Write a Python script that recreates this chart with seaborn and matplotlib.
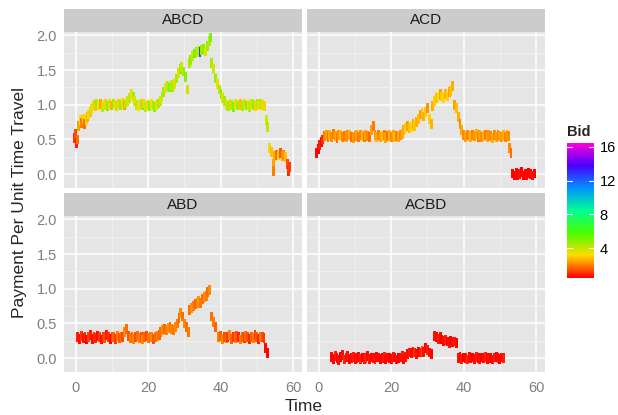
import numpy as np
import pandas as pd
import matplotlib
matplotlib.use("Agg")
import matplotlib.pyplot as plt
import matplotlib.patches as mpatches
from matplotlib.colors import LinearSegmentedColormap, Normalize
from matplotlib.markers import MarkerStyle
from matplotlib.path import Path
from matplotlib.cm import ScalarMappable
import seaborn as sns

# ---------------- data ----------------
ROUTES = ["ABCD", "ACD", "ABD", "ACBD"]

T_ABCD = [-0.5, -0.1, 0.1, 0.4,
          0.8, 1.2, 1.6, 2.0, 2.4, 2.8, 3.2, 3.6, 4.0, 4.4,
          4.8, 5.3, 5.8, 6.3, 6.8, 7.3, 7.8, 8.3, 8.8, 9.3, 9.8, 10.3, 10.8, 11.3, 11.8, 12.3, 12.8, 13.3, 13.8, 14.3,
          14.8, 15.3, 15.8, 16.3,
          16.8, 17.3, 17.8, 18.3, 18.8, 19.3, 19.8, 20.3, 20.8, 21.3, 21.8, 22.3, 22.8, 23.3,
          23.8, 24.3, 24.8, 25.3, 25.8, 26.3, 26.8, 27.3,
          27.8, 28.3, 28.8, 29.3, 29.8, 30.3, 30.8,
          31.3, 31.8, 32.3, 32.8, 33.3, 33.8, 34.3, 34.8, 35.3, 35.8, 36.3, 36.8, 37.1,
          37.6, 38.1, 38.6, 39.1, 39.6, 40.1, 40.6, 41.1,
          41.6, 42.1, 42.6, 43.1, 43.6, 44.1, 44.6, 45.1, 45.6, 46.1, 46.6, 47.1, 47.6, 48.1, 48.6, 49.1, 49.6, 50.1, 50.6, 51.1, 51.6, 52.1,
          52.6, 53.0, 53.5, 54.0, 54.5, 54.5, 55.0, 55.5, 56.0, 56.5, 57.0, 57.5, 58.0, 58.5, 58.8, 59.0]
P_ABCD = [0.52, 0.58, 0.45, 0.50,
          0.70, 0.78, 0.74, 0.80, 0.72, 0.78, 0.82, 0.86, 0.90, 0.94,
          1.00, 0.98, 1.02, 0.99, 1.01, 0.97, 1.00, 1.02, 0.98, 1.01, 0.99, 1.02, 1.00, 0.98, 1.01, 1.00, 1.03, 0.99, 1.02, 1.05,
          1.10, 1.16, 1.12, 1.06,
          1.00, 0.98, 1.01, 0.99, 1.02, 0.97, 1.00, 0.98, 1.01, 0.99, 0.97, 1.00, 1.02, 1.05,
          1.12, 1.18, 1.24, 1.27, 1.25, 1.28, 1.26, 1.30,
          1.38, 1.46, 1.52, 1.55, 1.48, 1.40, 1.22,
          1.60, 1.65, 1.70, 1.74, 1.76, 1.78, 1.76, 1.79, 1.80, 1.77, 1.85, 1.92, 1.97,
          1.60, 1.52, 1.38, 1.30, 1.22, 1.15, 1.10, 1.05,
          1.00, 0.98, 1.01, 1.00, 0.97, 1.02, 0.99, 1.00, 1.01, 0.98, 1.02, 0.99, 1.00, 0.97, 1.01, 1.00, 0.98, 1.02, 0.99, 1.01, 1.00, 0.98,
          0.78, 0.68, 0.38, 0.32, 0.15, 0.05, 0.26, 0.28, 0.27, 0.30, 0.26, 0.28, 0.25, 0.15, 0.05, 0.10]
B_ABCD = [1.0, 1.4, 0.8, 1.8,
          2.4, 3.4, 2.0, 3.0, 1.8, 3.6, 2.6, 3.4, 2.8, 3.6,
          3.6, 2.8, 4.6, 3.2, 2.4, 4.0, 3.8, 3.0, 5.0, 3.6, 2.6, 4.4, 3.2, 4.0, 3.0, 4.8, 3.4, 2.4, 4.2, 3.8,
          4.0, 3.4, 4.6, 3.6,
          4.2, 3.2, 3.8, 5.2, 3.0, 4.0, 3.6, 4.8, 3.2, 4.0, 5.0, 3.4, 4.4, 3.8,
          4.0, 4.6, 3.4, 4.2, 5.2, 3.8, 4.4, 3.6,
          4.4, 3.6, 4.8, 4.0, 4.4, 5.0, 3.8,
          4.2, 4.8, 3.8, 5.4, 4.4, 4.0, 12.5, 4.6, 5.0, 3.6, 4.4, 4.2, 5.2,
          4.4, 3.8, 4.8, 3.4, 4.2, 5.0, 3.6, 4.4,
          3.8, 4.4, 3.0, 4.2, 5.0, 3.4, 4.6, 4.0, 2.8, 4.4, 3.6, 5.2, 3.2, 4.2, 3.8, 4.8, 3.0, 4.4, 3.4, 4.2, 3.8, 3.0,
          3.8, 4.2, 3.4, 2.8, 2.4, 2.0, 2.6, 1.8, 3.0, 1.5, 2.4, 2.2, 2.8, 1.4, 1.0, 1.2]

T_ACD = [-0.6, -0.2, 0.2, 0.6, 1.0,
         1.5, 2.0, 2.5, 3.0, 3.5, 4.0, 4.5, 5.0, 5.5, 6.0, 6.5, 7.0, 7.5, 8.0, 8.5, 9.0, 9.5, 10.0, 10.5, 11.0, 11.5, 12.0, 12.5, 13.0, 13.5, 14.0,
         14.5, 15.0,
         15.5, 16.0, 16.5, 17.0, 17.5, 18.0, 18.5, 19.0, 19.5, 20.0, 20.5, 21.0, 21.5, 22.0, 22.5, 23.0,
         23.5, 24.0, 24.5, 25.0, 25.5, 26.0, 26.5, 27.0,
         27.5, 28.0, 28.5, 29.0, 29.5, 30.0, 30.5, 31.0,
         31.5, 32.0, 32.5, 33.0, 33.5, 34.0, 34.5, 35.0, 35.5, 36.0, 36.5, 37.0,
         37.5, 38.0,
         38.5, 39.0, 39.5,
         40.0, 40.5, 41.0, 41.5, 42.0, 42.5, 43.0, 43.5, 44.0, 44.5, 45.0, 45.5, 46.0, 46.5, 47.0, 47.5, 48.0, 48.5, 49.0, 49.5, 50.0, 50.5, 51.0, 51.5, 52.0, 52.5,
         52.8, 53.1,
         53.5, 54.0, 54.5, 55.0, 55.5, 56.0, 56.5, 57.0, 57.5, 58.0, 58.5, 59.0, 59.5]
P_ACD = [0.30, 0.36, 0.42, 0.46, 0.50,
         0.55, 0.57, 0.53, 0.56, 0.54, 0.58, 0.55, 0.52, 0.56, 0.57, 0.54, 0.55, 0.53, 0.57, 0.56, 0.54, 0.52, 0.55, 0.57, 0.53, 0.56, 0.55, 0.54, 0.57, 0.55, 0.53,
         0.64, 0.70,
         0.56, 0.54, 0.57, 0.53, 0.55, 0.56, 0.52, 0.55, 0.57, 0.54, 0.56, 0.53, 0.55, 0.54, 0.56, 0.58,
         0.64, 0.66, 0.70, 0.66, 0.68, 0.72, 0.70, 0.75,
         0.80, 0.86, 0.88, 0.83, 0.90, 0.95, 0.80, 0.72,
         0.98, 1.05, 1.10, 1.12, 1.15, 1.12, 1.10, 1.15, 1.12, 1.18, 1.20, 1.27,
         1.00, 0.95,
         0.82, 0.72, 0.64,
         0.56, 0.54, 0.57, 0.55, 0.53, 0.56, 0.55, 0.58, 0.54, 0.56, 0.53, 0.55, 0.57, 0.54, 0.56, 0.55, 0.52, 0.56, 0.54, 0.57, 0.55, 0.53, 0.56, 0.54, 0.57, 0.55,
         0.38, 0.30,
         0.01, -0.02, 0.02, -0.01, 0.00, 0.03, -0.02, 0.01, -0.01, 0.02, 0.00, -0.02, 0.01]
B_ACD = [0.6, 0.5, 0.8, 0.6, 1.0,
         2.0, 2.4, 1.8, 2.6, 2.2, 2.0, 2.5, 1.8, 2.3, 2.7, 2.1, 1.9, 2.4, 2.2, 2.6, 1.8, 2.3, 2.1, 2.5, 1.9, 2.2, 2.6, 2.0, 2.4, 2.1, 1.8,
         2.4, 2.0,
         2.3, 2.6, 2.0, 2.4, 2.8, 2.1, 2.5, 1.9, 2.7, 2.2, 2.4, 2.8, 2.0, 2.5, 2.2, 2.6,
         2.6, 3.0, 2.4, 2.8, 3.1, 2.5, 2.9, 2.6,
         2.8, 2.4, 3.0, 2.6, 2.9, 2.3, 3.0, 2.7,
         2.6, 3.0, 2.8, 3.2, 2.5, 2.9, 3.1, 2.7, 3.0, 2.4, 2.8, 2.6,
         2.4, 2.8,
         2.6, 2.2, 2.5,
         2.2, 2.5, 2.0, 2.4, 2.7, 2.1, 2.3, 2.6, 1.9, 2.4, 2.2, 2.7, 2.0, 2.5, 2.3, 2.1, 2.6, 2.2, 2.4, 2.0, 2.5, 2.3, 2.7, 2.1, 2.4, 2.2,
         2.2, 1.8,
         0.5, 0.45, 0.6, 0.5, 0.7, 0.45, 0.55, 0.5, 0.6, 0.45, 0.55, 0.7, 0.5]

T_ABD = [0.5, 1.0, 1.5, 2.0, 2.5, 3.0, 3.5, 4.0, 4.5, 5.0, 5.5, 6.0, 6.5, 7.0, 7.5, 8.0, 8.5, 9.0, 9.5, 10.0,
         10.5, 11.0, 11.5, 12.0, 12.5, 13.0, 13.5, 14.0, 14.5, 15.0, 15.5, 16.0, 16.5, 17.0, 17.5, 18.0, 18.5, 19.0, 19.5, 20.0,
         20.5, 21.0, 21.5, 22.0, 22.5, 23.0,
         23.5, 24.0, 24.5, 25.0, 25.5, 26.0, 26.5, 27.0, 27.5,
         28.0, 28.5, 29.0, 29.5, 30.0, 30.5, 31.0,
         31.5, 32.0, 32.5, 33.0, 33.5, 34.0, 34.5, 35.0, 35.5, 36.0, 36.5, 37.0,
         37.5, 38.0, 38.5,
         39.5, 40.0, 40.5, 41.0, 41.5, 42.0, 42.5, 43.0, 43.5, 44.0, 44.5, 45.0, 45.5, 46.0, 46.5, 47.0, 47.5, 48.0, 48.5, 49.0, 49.5, 50.0, 50.5, 51.0, 51.5, 52.0,
         52.5, 53.0]
P_ABD = [0.30, 0.28, 0.32, 0.29, 0.31, 0.27, 0.30, 0.33, 0.28, 0.31,
         0.29, 0.32, 0.30, 0.27, 0.31, 0.29, 0.33, 0.30, 0.28, 0.31,
         0.30, 0.28, 0.32, 0.29, 0.31, 0.30, 0.38, 0.42, 0.32, 0.29,
         0.31, 0.28, 0.30, 0.32, 0.29, 0.31, 0.27, 0.30, 0.32, 0.29,
         0.31, 0.30, 0.28, 0.30, 0.32, 0.33,
         0.38, 0.40, 0.42, 0.40, 0.43, 0.45, 0.42, 0.40, 0.45,
         0.50, 0.58, 0.65, 0.60, 0.50, 0.45, 0.38,
         0.70, 0.72, 0.75, 0.78, 0.80, 0.82, 0.80, 0.85, 0.88, 0.90, 0.95, 0.98,
         0.60, 0.52, 0.45,
         0.30, 0.32, 0.28, 0.31, 0.29, 0.30, 0.33, 0.28, 0.31, 0.29, 0.32, 0.30, 0.27, 0.31, 0.29, 0.32, 0.30, 0.28, 0.31, 0.29, 0.33, 0.30, 0.28, 0.31, 0.30, 0.29,
         0.15, 0.07]
B_ABD = [0.8, 0.6, 1.1, 0.7, 1.0, 0.5, 1.3, 0.8, 0.6, 1.0,
         0.9, 0.6, 1.2, 0.7, 1.0, 1.5, 0.8, 1.1, 0.6, 1.3,
         1.7, 1.2, 2.0, 1.5, 1.8, 1.3, 2.1, 1.8, 1.5, 2.0,
         1.7, 2.1, 1.4, 1.8, 2.0, 1.5, 2.1, 1.7, 1.4, 1.9,
         1.8, 2.1, 1.5, 1.8, 2.0, 1.7,
         1.8, 2.2, 1.7, 2.0, 2.3, 1.8, 2.1, 1.9, 2.2,
         2.0, 1.7, 2.2, 1.8, 2.1, 1.8, 1.9,
         1.8, 2.2, 2.0, 1.7, 2.1, 2.3, 1.9, 1.8, 2.2, 2.0, 1.8, 2.1,
         1.8, 2.0, 1.7,
         2.0, 1.6, 2.2, 1.4, 1.8, 1.1, 2.1, 1.7, 1.2, 1.9, 1.5, 0.9, 2.0, 1.6, 1.2, 1.8, 1.4, 1.0, 1.7, 2.0, 1.2, 1.6, 0.9, 1.9, 1.4, 1.1,
         0.6, 0.5]

T_ACBD = [3.5, 4.0, 4.5, 5.0, 5.5, 6.0, 6.5, 7.0, 7.5, 8.0, 8.5, 9.0, 9.5, 10.0,
          10.5, 11.0, 11.5, 12.0, 12.5, 13.0, 13.5, 14.0, 14.5, 15.0, 15.5, 16.0, 16.5, 17.0,
          17.5, 18.0, 18.5, 19.0, 19.5, 20.0, 20.5, 21.0, 21.5, 22.0, 22.5, 23.0, 23.5, 24.0,
          24.5, 25.0, 25.5, 26.0, 26.5, 27.0, 27.5, 28.0, 28.5, 29.0, 29.5, 30.0, 30.5, 31.0,
          32.0, 32.5, 33.0, 33.5, 34.0,
          34.5, 35.0, 35.5, 36.0, 36.5, 37.0, 37.5, 38.0,
          38.5, 39.0, 39.5, 40.0, 40.5, 41.0, 41.5, 42.0, 42.5, 43.0, 43.5, 44.0, 44.5, 45.0, 45.5, 46.0,
          46.5, 47.0, 47.5, 48.0, 48.5, 49.0, 49.5, 50.0, 50.5, 51.0]
P_ACBD = [0.02, -0.01, 0.03, 0.00, -0.03, 0.02, 0.04, -0.02, 0.01, 0.03, -0.01, 0.00, 0.02, -0.02,
          0.00, 0.02, -0.01, 0.01, -0.02, 0.00, 0.03, -0.01, 0.01, 0.00, -0.02, 0.02, 0.01, -0.01,
          0.00, 0.02, -0.02, 0.01, 0.00, -0.01, 0.02, 0.01, -0.02, 0.00, 0.01, 0.03, -0.01, 0.02,
          0.06, 0.08, 0.07, 0.09, 0.08, 0.06, 0.09, 0.08, 0.10, 0.09, 0.15, 0.12, 0.08, 0.06,
          0.32, 0.30, 0.28, 0.30, 0.27,
          0.25, 0.26, 0.24, 0.22, 0.25, 0.23, 0.24, 0.22,
          0.00, 0.02, -0.01, 0.01, 0.00, -0.02, 0.02, 0.00, 0.01, -0.01, 0.02, 0.00, -0.02, 0.01, 0.00, 0.02,
          -0.01, 0.01, 0.00, -0.02, 0.01, 0.02, 0.00, -0.01, 0.01, 0.00]
B_ACBD = [0.6, 0.5, 0.8, 0.55, 0.7, 0.5, 0.6, 0.9, 0.55, 0.7, 0.5, 0.6, 0.8, 0.55,
          0.7, 0.55, 0.8, 0.5, 0.6, 0.9, 0.55, 0.7, 0.5, 0.6, 0.8, 0.55, 0.7, 0.5,
          0.6, 0.9, 0.55, 0.7, 0.5, 0.6, 0.8, 0.55, 0.7, 0.5, 0.6, 0.8, 0.55, 0.7,
          0.6, 0.8, 0.55, 0.7, 1.0, 0.6, 0.5, 0.8, 1.4, 0.7, 0.55, 0.8, 0.6, 0.5,
          0.7, 0.55, 0.8, 0.6, 0.5,
          0.6, 0.8, 0.55, 0.7, 0.5, 0.6, 0.8, 0.55,
          0.7, 0.55, 0.8, 0.5, 0.6, 0.9, 0.55, 0.7, 0.5, 0.6, 0.8, 0.55, 0.7, 0.5, 0.6, 0.9,
          0.55, 0.7, 0.5, 0.6, 0.8, 0.55, 0.7, 0.5, 0.6, 0.8]

X_TICKS = [0, 20, 40, 60]
Y_TICKS = [0.0, 0.5, 1.0, 1.5, 2.0]
Y_TICK_LABELS = ["0.0", "0.5", "1.0", "1.5", "2.0"]
BID_TICKS = [4, 8, 12, 16]
BID_RANGE = (0.45, 16.47)
RAINBOW = ["#FF0000", "#FFDB00", "#49FF00", "#00FF92", "#0092FF", "#4900FF", "#FF00DB"]

SERIES = {"ABCD": (T_ABCD, P_ABCD, B_ABCD), "ACD": (T_ACD, P_ACD, B_ACD),
          "ABD": (T_ABD, P_ABD, B_ABD), "ACBD": (T_ACBD, P_ACBD, B_ACBD)}

frames = []
for r in ROUTES:
    t, p, b = SERIES[r]
    frames.append(pd.DataFrame({"Route": r, "Time": t, "Payment": p, "Bid": b}))
df = pd.concat(frames, ignore_index=True)

# ---------------- style ----------------
sns.set_style("white")
plt.rcParams["font.family"] = ["Liberation Sans", "DejaVu Sans"]

cmap = LinearSegmentedColormap.from_list("rainbow7", RAINBOW, N=256)
norm = Normalize(*BID_RANGE)

W, H = 618, 415
fig = plt.figure(figsize=(W / 100, H / 100), dpi=100)

panel_w, panel_h = 238, 156
lefts = [64, 307]
tops = [32, 216]
strip_h = 23

rect_marker = MarkerStyle(Path([(-0.3, -1), (0.3, -1), (0.3, 1), (-0.3, 1), (-0.3, -1)],
                               [Path.MOVETO, Path.LINETO, Path.LINETO, Path.LINETO, Path.CLOSEPOLY]))

GREY50 = "#7F7F7F"
for i, route in enumerate(ROUTES):
    row, col = divmod(i, 2)
    x0, y0 = lefts[col], tops[row]
    ax = fig.add_axes([x0 / W, 1 - (y0 + panel_h) / H, panel_w / W, panel_h / H])
    ax.set_facecolor("#E5E5E5")
    sub = df[df["Route"] == route]
    sns.scatterplot(data=sub, x="Time", y="Payment", hue="Bid", palette=cmap, hue_norm=norm,
                    marker=rect_marker, s=50, linewidth=0, legend=False, ax=ax, zorder=3)
    ax.set_xlim(-3.3, 62.5)
    ax.set_ylim(-0.2, 2.05)
    ax.set_xticks(X_TICKS)
    ax.set_xticks([10, 30, 50], minor=True)
    ax.set_yticks(Y_TICKS)
    ax.set_yticks([0.25, 0.75, 1.25, 1.75], minor=True)
    ax.grid(True, which="major", color="white", linewidth=1.1)
    ax.grid(True, which="minor", color="#F2F2F2", linewidth=0.6)
    ax.set_axisbelow(True)
    for sp in ax.spines.values():
        sp.set_visible(False)
    ax.set_xlabel("")
    ax.set_ylabel("")
    ax.tick_params(which="minor", length=0)
    ax.tick_params(which="major", length=3, width=0.8, color=GREY50, labelcolor=GREY50,
                   labelsize=10.5, pad=2)
    ax.tick_params(axis="x", pad=3.5)
    if col == 0:
        ax.set_yticklabels(Y_TICK_LABELS)
    else:
        ax.tick_params(axis="y", length=0, labelleft=False)
    if row == 1:
        ax.set_xticklabels([str(v) for v in X_TICKS])
    else:
        ax.tick_params(axis="x", length=0, labelbottom=False)
    ax.add_patch(mpatches.Rectangle((0, 1), 1, strip_h / panel_h, transform=ax.transAxes,
                                    facecolor="#CCCCCC", edgecolor="none", clip_on=False))
    ax.text(0.5, 1 + strip_h / panel_h / 2, route, transform=ax.transAxes, ha="center",
            va="center", fontsize=11, color="#1A1A1A")

fig.text(304 / W, 1 - 406 / H, "Time", ha="center", va="center", fontsize=12.5)
fig.text(20 / W, 1 - 202 / H, "Payment Per Unit Time Travel", ha="center", va="center",
         rotation=90, fontsize=12.5)

# colour bar legend
cax = fig.add_axes([567 / W, 1 - 278 / H, 27 / W, 135 / H])
cb = fig.colorbar(ScalarMappable(norm=norm, cmap=cmap), cax=cax, ticks=BID_TICKS)
cb.outline.set_visible(False)
cax.tick_params(length=0, labelsize=10.5, pad=4, colors="black")
for v in BID_TICKS:
    cax.plot([0, 0.2], [v, v], color="white", lw=0.8)
    cax.plot([0.8, 1], [v, v], color="white", lw=0.8)
fig.text(567 / W, 1 - 132 / H, "Bid", ha="left", va="center", fontsize=10.5, fontweight="bold")

fig.savefig("out.png", dpi=100)
